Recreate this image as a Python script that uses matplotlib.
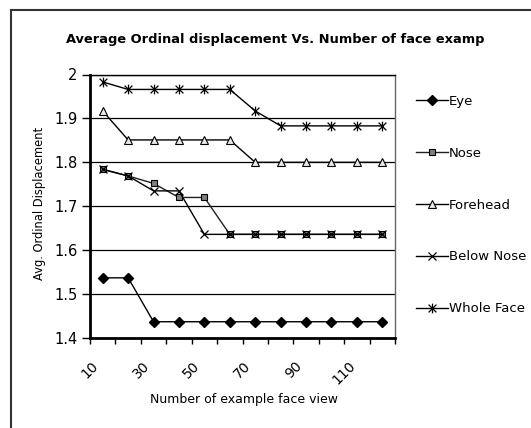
import matplotlib
matplotlib.use("Agg")
import matplotlib.pyplot as plt
from matplotlib.path import Path
from matplotlib.lines import Line2D
import numpy as np

categories = [10, 20, 30, 40, 50, 60, 70, 80, 90, 100, 110, 120]
tick_labels = ["10", "30", "50", "70", "90", "110"]

eye = [1.537, 1.537, 1.437, 1.437, 1.437, 1.437, 1.437, 1.437, 1.437, 1.437, 1.437, 1.437]
nose = [1.784, 1.769, 1.752, 1.720, 1.720, 1.636, 1.636, 1.636, 1.636, 1.636, 1.636, 1.636]
forehead = [1.917, 1.851, 1.851, 1.851, 1.851, 1.851, 1.800, 1.800, 1.800, 1.800, 1.800, 1.800]
below_nose = [1.784, 1.769, 1.735, 1.735, 1.636, 1.636, 1.636, 1.636, 1.636, 1.636, 1.636, 1.636]
whole_face = [1.983, 1.966, 1.966, 1.966, 1.966, 1.966, 1.917, 1.883, 1.883, 1.883, 1.883, 1.883]

W, H = 531, 428
fig = plt.figure(figsize=(W / 100, H / 100), dpi=100)
fig.patch.set_facecolor("white")

ax = fig.add_axes([90 / W, 1 - 338 / H, (395 - 90) / W, (338 - 74.5) / H])

x = np.arange(len(categories))

star = Path([(-1, -1), (1, 1), (-1, 1), (1, -1), (0, -1.25), (0, 1.25)],
            [Path.MOVETO, Path.LINETO, Path.MOVETO, Path.LINETO, Path.MOVETO, Path.LINETO])

lw = 1.0
ax.plot(x, eye, color="black", lw=lw, marker="D", ms=5, mfc="black", mec="black", label="Eye")
ax.plot(x, nose, color="#202020", lw=lw, marker="s", ms=5, mfc="#808080", mec="black", mew=0.8, label="Nose")
ax.plot(x, forehead, color="black", lw=lw, marker="^", ms=6, mfc="#e8e8e8", mec="black", mew=0.8, label="Forehead")
ax.plot(x, below_nose, color="black", lw=lw, marker="x", ms=6, mec="black", mew=0.9, label="Below Nose")
ax.plot(x, whole_face, color="black", lw=lw, marker=star, ms=7, mec="black", mew=0.9, label="Whole Face")

ax.set_xlim(-0.5, len(categories) - 0.5)
ax.set_ylim(1.4, 2.0)

ax.set_yticks([1.4, 1.5, 1.6, 1.7, 1.8, 1.9, 2.0])
ax.set_yticklabels(["1.4", "1.5", "1.6", "1.7", "1.8", "1.9", "2"], fontsize=10.5)
ax.yaxis.grid(True, color="black", lw=0.9)
ax.set_axisbelow(True)

boundary_labels = []
for i in range(len(categories) + 1):
    boundary_labels.append(tick_labels[i // 2] if (i % 2 == 0 and i // 2 < len(tick_labels)) else "")
ax.set_xticks(np.arange(len(categories) + 1) - 0.5)
ax.set_xticklabels(boundary_labels, rotation=45, ha="center", va="top", fontsize=10)
ax.tick_params(axis="x", direction="out", length=4, width=1, color="black", pad=11)
ax.tick_params(axis="y", direction="out", length=6, width=1, color="black", pad=3)

for s in ["left", "bottom"]:
    ax.spines[s].set_linewidth(2)
    ax.spines[s].set_color("black")
ax.spines["top"].set_linewidth(1)
ax.spines["top"].set_color("black")
ax.spines["right"].set_linewidth(1)
ax.spines["right"].set_color("#666666")

fig.text(40 / W, 1 - 203 / H, "Avg. Ordinal Displacement", rotation=90, ha="center", va="center", fontsize=8.3)
fig.text(244 / W, 1 - 400 / H, "Number of example face view", ha="center", va="center", fontsize=9)
fig.text(275 / W, 1 - 39 / H, "Average Ordinal displacement Vs. Number of face examp",
         ha="center", va="center", fontsize=9.4, fontweight="bold")

leg = fig.legend(loc="upper left", bbox_to_anchor=(416 / W, 1 - 95 / H), frameon=False,
                 fontsize=9.5, handlelength=2.4, handletextpad=0.1, labelspacing=2.94,
                 borderpad=0, borderaxespad=0)

# outer chart border (top and left visible)
fig.add_artist(Line2D([11 / W, 11 / W], [-0.1, 1 - 10 / H], transform=fig.transFigure, color="#333333", lw=1.5))
fig.add_artist(Line2D([11 / W, 1.1], [1 - 10 / H, 1 - 10 / H], transform=fig.transFigure, color="#333333", lw=1.5))

fig.savefig("out.png", dpi=100)
